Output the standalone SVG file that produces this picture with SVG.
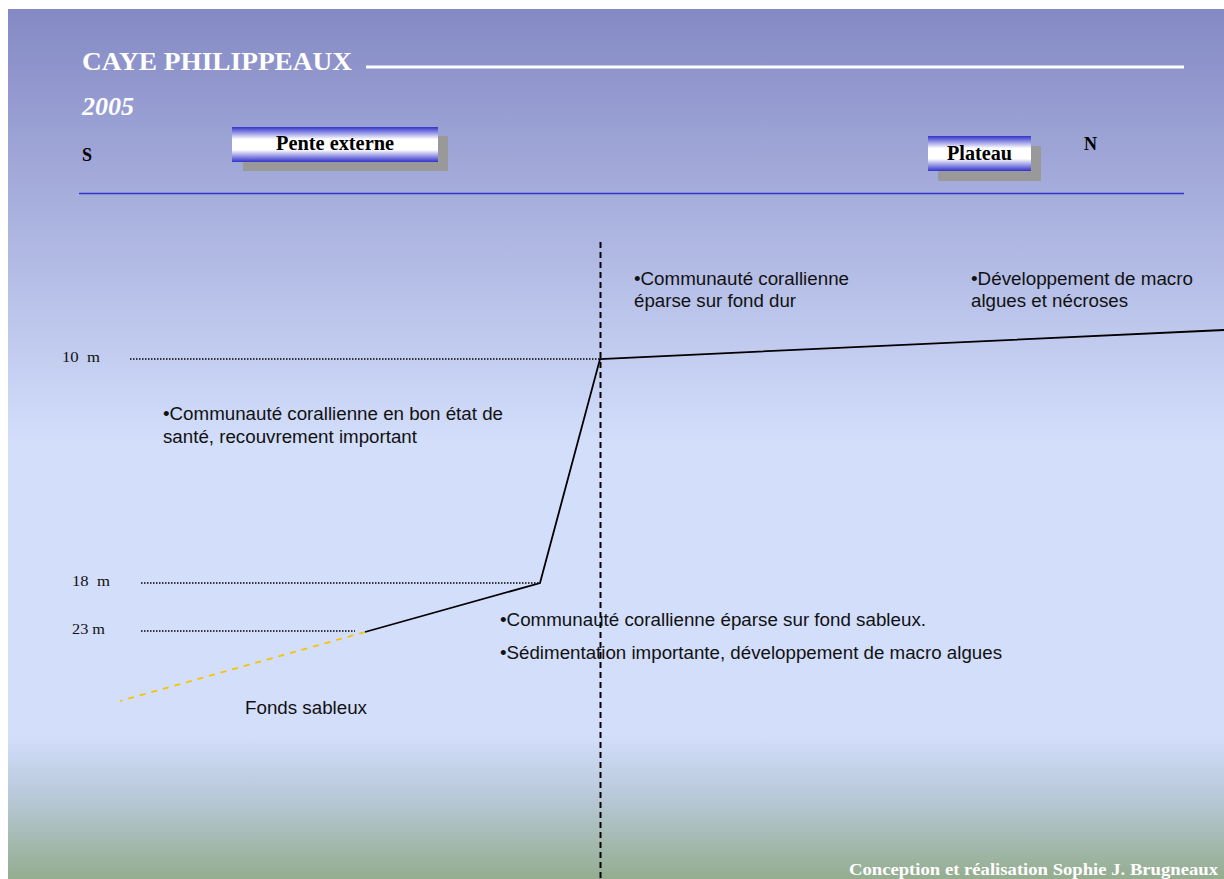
<svg xmlns="http://www.w3.org/2000/svg" width="1224" height="879" viewBox="0 0 1224 879">
<defs>
<linearGradient id="bg" x1="0" y1="8" x2="0" y2="879" gradientUnits="userSpaceOnUse">
<stop offset="0" stop-color="#8489C4"/>
<stop offset="0.5" stop-color="#D3DEFB"/>
<stop offset="0.835" stop-color="#D3DEFB"/>
<stop offset="0.9" stop-color="#BACADC"/>
<stop offset="1" stop-color="#94AD8F"/>
</linearGradient>
<linearGradient id="btn" x1="0" y1="0" x2="0" y2="1">
<stop offset="0" stop-color="#3333CC"/>
<stop offset="0.35" stop-color="#FFFFFF"/>
<stop offset="0.65" stop-color="#FFFFFF"/>
<stop offset="1" stop-color="#3333CC"/>
</linearGradient>
<style>
.serif{font-family:"Liberation Serif","Times New Roman",serif}
.sans{font-family:"Liberation Sans",Arial,sans-serif;font-size:17.5px;fill:#111}
.lbl{font-family:"Liberation Serif","Times New Roman",serif;font-size:15px;fill:#111}
.dot{stroke:#000;stroke-width:1.5;stroke-dasharray:1.5 1.5;fill:none}
.btntext{font-family:"Liberation Serif","Times New Roman",serif;font-weight:bold;font-size:20px;fill:#000;text-anchor:middle}
</style>
</defs>
<rect x="0" y="0" width="1224" height="879" fill="#fff"/>
<rect x="8" y="9" width="1216" height="870" fill="url(#bg)"/>

<g id="header">
<text x="82" y="70" class="serif" font-size="26" font-weight="bold" fill="#fff" textLength="270" lengthAdjust="spacingAndGlyphs">CAYE PHILIPPEAUX</text>
<line x1="366" y1="67" x2="1184" y2="67" stroke="#fff" stroke-width="3"/>
<text x="82" y="115" class="serif" font-size="26" font-weight="bold" font-style="italic" fill="#fff" textLength="52" lengthAdjust="spacingAndGlyphs">2005</text>
<text x="82" y="161" class="serif" font-size="18" font-weight="bold" fill="#000">S</text>
<text x="1084" y="150" class="serif" font-size="18" font-weight="bold" fill="#000">N</text>
<line x1="79" y1="193.5" x2="1184" y2="193.5" stroke="#3333CC" stroke-width="1.5"/>
</g>

<g id="pente-externe">
<rect x="243" y="136" width="205" height="35" fill="#999"/>
<rect x="232" y="127" width="206" height="35" fill="url(#btn)"/>
<text x="335" y="150" class="btntext" textLength="118" lengthAdjust="spacingAndGlyphs">Pente externe</text>
</g>

<g id="plateau">
<rect x="938" y="146" width="103" height="35" fill="#999"/>
<rect x="928" y="136" width="103" height="35" fill="url(#btn)"/>
<text x="979.5" y="160" class="btntext" textLength="65" lengthAdjust="spacingAndGlyphs">Plateau</text>
</g>

<g id="connectors">
<line x1="600.5" y1="242" x2="600.5" y2="879" stroke="#000" stroke-width="2" stroke-dasharray="6 4"/>
<line x1="130" y1="359" x2="600" y2="359" class="dot"/>
<line x1="141" y1="583" x2="540" y2="583" class="dot"/>
<line x1="141" y1="631" x2="355" y2="631" class="dot"/>
<polyline points="1224,330 600,359 540,583 365,632" fill="none" stroke="#000" stroke-width="1.8"/>
<line x1="365" y1="632" x2="120" y2="701" stroke="#F5C400" stroke-width="1.8" stroke-dasharray="6 6"/>
</g>

<g id="depth-labels">
<text x="62" y="362" class="lbl" xml:space="preserve" textLength="38" lengthAdjust="spacingAndGlyphs">10  m</text>
<text x="72" y="586" class="lbl" xml:space="preserve" textLength="38" lengthAdjust="spacingAndGlyphs">18  m</text>
<text x="72" y="634" class="lbl" textLength="33" lengthAdjust="spacingAndGlyphs">23 m</text>
</g>

<g id="texts">
<text class="sans"><tspan x="163" y="420" textLength="340" lengthAdjust="spacingAndGlyphs">•Communauté corallienne en bon état de</tspan><tspan x="163" y="443" textLength="254" lengthAdjust="spacingAndGlyphs">santé, recouvrement important</tspan></text>
<text class="sans"><tspan x="634" y="285" textLength="215" lengthAdjust="spacingAndGlyphs">•Communauté corallienne</tspan><tspan x="634" y="307" textLength="162" lengthAdjust="spacingAndGlyphs">éparse sur fond dur</tspan></text>
<text class="sans"><tspan x="971" y="285" textLength="222" lengthAdjust="spacingAndGlyphs">•Développement de macro</tspan><tspan x="971" y="307" textLength="157" lengthAdjust="spacingAndGlyphs">algues et nécroses</tspan></text>
<text x="500" y="626" class="sans" textLength="426" lengthAdjust="spacingAndGlyphs">•Communauté corallienne éparse sur fond sableux.</text>
<text x="500" y="659" class="sans" textLength="502" lengthAdjust="spacingAndGlyphs">•Sédimentation importante, développement de macro algues</text>
<text x="245" y="714" class="sans" textLength="122" lengthAdjust="spacingAndGlyphs">Fonds sableux</text>
</g>

<g id="footer">
<text x="849" y="875" class="serif" font-size="16" font-weight="bold" fill="#fff" textLength="369" lengthAdjust="spacingAndGlyphs">Conception et réalisation Sophie J. Brugneaux</text>
</g>
</svg>
